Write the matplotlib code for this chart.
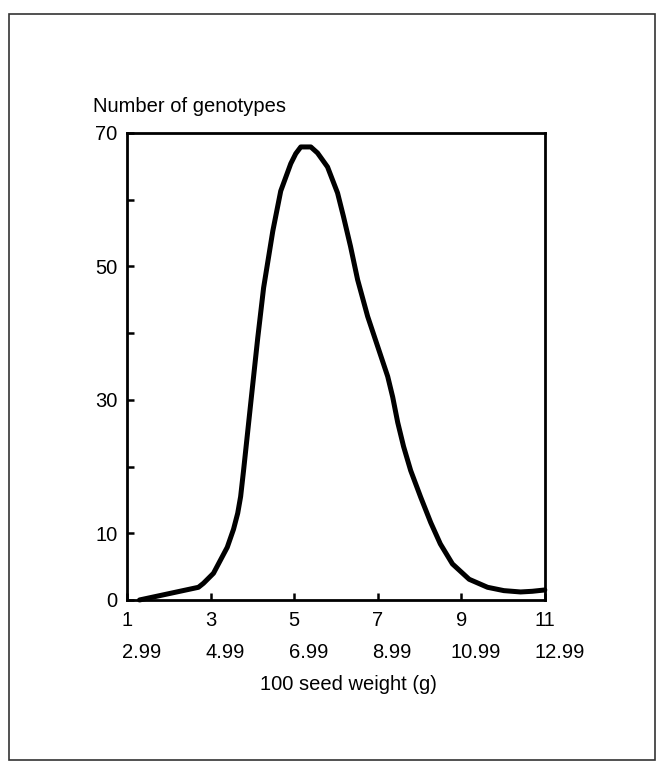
"""
Frequency distribution of genotypes by 100 seed weight
"""

import matplotlib
matplotlib.use('Agg')
import matplotlib.pyplot as plt
from matplotlib.patches import Rectangle

plt.rcParams['font.family'] = ['Liberation Sans', 'DejaVu Sans']

# curve (class midpoint index, number of genotypes)
seed_class = [1.3, 2.71, 2.83, 3.07, 3.4, 3.55, 3.65, 3.72, 3.79, 3.96, 4.13, 4.27,
              4.49, 4.68, 4.92, 5.04, 5.16, 5.4, 5.56, 5.8, 6.04, 6.18, 6.35, 6.52,
              6.76, 7.0, 7.24, 7.36, 7.48, 7.62, 7.79, 8.03, 8.27, 8.5, 8.79, 9.19,
              9.63, 10.02, 10.42, 10.7, 11.0]
genotypes = [0.0, 1.9, 2.5, 4.0, 7.9, 10.6, 13.0, 15.5, 19.4, 29.4, 39.3, 46.8,
             55.3, 61.3, 65.4, 66.9, 67.9, 67.9, 67.0, 64.9, 61.0, 57.5, 53.0, 48.0,
             42.5, 38.0, 33.5, 30.4, 26.6, 23.0, 19.4, 15.4, 11.6, 8.4, 5.4, 3.1,
             1.9, 1.4, 1.2, 1.3, 1.5]

x_ticks = [1, 3, 5, 7, 9, 11]
x_upper = ['2.99', '4.99', '6.99', '8.99', '10.99', '12.99']
y_ticks = [0, 10, 20, 30, 40, 50, 60, 70]
y_labels = ['0', '10', '', '30', '', '50', '', '70']

fig = plt.figure(figsize=(6.59, 7.64), dpi=100)
ax = fig.add_axes([0.1927, 0.2147, 0.634, 0.6113])

ax.plot(seed_class, genotypes, color='black', lw=3.6, solid_joinstyle='round',
        solid_capstyle='round', clip_on=False)

ax.set_xlim(1, 11)
ax.set_ylim(0, 70)
ax.set_xticks(x_ticks)
ax.set_xticklabels([str(t) for t in x_ticks])
ax.set_yticks(y_ticks)
ax.set_yticklabels(y_labels)
ax.tick_params(direction='in', length=5, width=1.8, labelsize=14.5, colors='black')
ax.tick_params(axis='x', pad=8)
ax.tick_params(axis='y', pad=7)
for s in ax.spines.values():
    s.set_linewidth(2.0)

# upper class limits, second row under the axis
for t, lab in zip(x_ticks, x_upper):
    ax.text(t + 0.35, -0.113, lab, transform=ax.get_xaxis_transform(),
            ha='center', va='center', fontsize=14.5)

ax.text(0.5 + 0.03, -0.181, '100 seed weight (g)', transform=ax.transAxes,
        ha='center', va='center', fontsize=14.5)
fig.text(93 / 659, 1 - 107 / 764, 'Number of genotypes', ha='left', va='center',
         fontsize=14.5)

# page frame around the figure
fig.patches.append(Rectangle((9 / 659, 1 - 760 / 764), 646 / 659, 746 / 764,
                             transform=fig.transFigure, fill=False,
                             edgecolor='#333333', lw=1.2))

fig.savefig('out.png', dpi=100)
